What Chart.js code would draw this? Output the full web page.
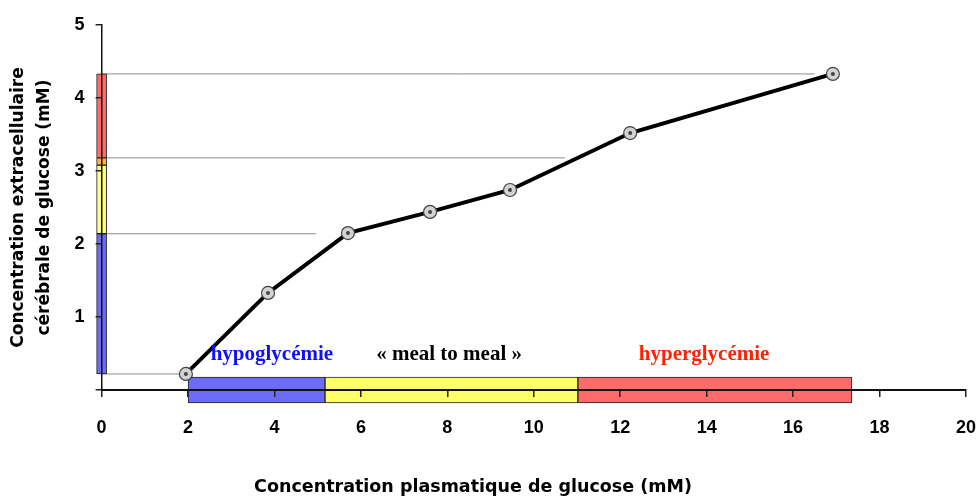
<!DOCTYPE html>
<html lang="fr">
<head>
<meta charset="utf-8">
<title>Glucose cérébral vs plasmatique</title>
<script src="https://cdn.jsdelivr.net/npm/chart.js@4.4.1/dist/chart.umd.min.js"></script>
<style>
  html, body { margin: 0; padding: 0; background: #fff; }
  #wrap { width: 979px; height: 499px; }
</style>
</head>
<body>
<div id="wrap"><canvas id="chart"></canvas></div>
<script>
// measured curve
const plasma = [1.95, 3.85, 5.7, 7.6, 9.45, 12.23, 16.92];
const cerebral = [0.22, 1.33, 2.15, 2.44, 2.74, 3.52, 4.33];

// axis ticks
const xTickValues = [0, 2, 4, 6, 8, 10, 12, 14, 16, 18, 20];
const yTickValues = [0, 1, 2, 3, 4, 5];

// plasma zones along the x axis
const zoneNames = ["hypoglycémie", "« meal to meal »", "hyperglycémie"];
const zoneEdges = [2, 5.17, 11.02, 17.36];

// matching brain zones along the y axis (blue, yellow, orange, red)
const brainEdges = [0.22, 2.14, 3.08, 3.18, 4.33];

// grey guide lines: level and where they stop
const refLevels = [0.22, 2.14, 3.18, 4.33];
const refEnds = [1.95, 4.96, 10.72, 16.5];

const zoneFill = ["#6b6bf7", "#ffff66", "#ff6a6a"];
const zoneText = ["#1010ff", "#000000", "#ff2200"];
const brainFill = ["#6b6bf7", "#ffff88", "#ffb347", "#ff6a6a"];

const decor = {
  id: "decor",
  afterDatasetsDraw(chart) {
    const ctx = chart.ctx;
    ctx.save();
    ctx.fillStyle = "#444";
    chart.getDatasetMeta(0).data.forEach((p) => {
      ctx.beginPath();
      ctx.arc(p.x, p.y, 2, 0, Math.PI * 2);
      ctx.fill();
    });
    ctx.restore();
  },
  afterDraw(chart) {
    const { ctx, scales } = chart;
    const labelX = [3.94, 8.04, 13.94];
    ctx.save();
    ctx.textAlign = "center";
    ctx.textBaseline = "middle";
    ctx.font = 'bold 21px "Liberation Serif"';
    zoneNames.forEach((name, i) => {
      ctx.fillStyle = zoneText[i];
      ctx.fillText(name, scales.x.getPixelForValue(labelX[i]), scales.y.getPixelForValue(0.49));
    });
    ctx.fillStyle = "#000";
    ctx.font = 'bold 17.5px "DejaVu Sans"';
    ctx.fillText("Concentration plasmatique de glucose (mM)", 473, 487);
    ctx.restore();
  },
};

const datasets = [
  {
    type: "line",
    data: plasma.map((x, i) => ({ x: x, y: cerebral[i] })),
    borderColor: "#000",
    borderWidth: 4,
    tension: 0,
    pointRadius: 6.5,
    pointBackgroundColor: "#d2d2d2",
    pointBorderColor: "#444",
    pointBorderWidth: 1.2,
    order: 0,
  },
  {
    type: "bar",
    indexAxis: "y",
    data: zoneEdges.slice(0, -1).map((a, i) => ({ x: [a, zoneEdges[i + 1]], y: 0 })),
    backgroundColor: zoneFill,
    borderColor: "#222",
    borderWidth: 1,
    borderSkipped: false,
    barThickness: 26,
    grouped: false,
    clip: false,
    order: 1,
  },
  {
    type: "bar",
    indexAxis: "x",
    data: brainEdges.slice(0, -1).map((a, i) => ({ x: 0, y: [a, brainEdges[i + 1]] })),
    backgroundColor: brainFill,
    borderColor: "#222",
    borderWidth: 1,
    borderSkipped: false,
    barThickness: 10,
    grouped: false,
    clip: false,
    order: 1,
  },
];

refLevels.forEach((lvl, i) => {
  datasets.push({
    type: "line",
    data: [{ x: 0, y: lvl }, { x: refEnds[i], y: lvl }],
    borderColor: "#8c8c8c",
    borderWidth: 1,
    pointRadius: 0,
    order: 3,
  });
});

new Chart(document.getElementById("chart"), {
  type: "line",
  data: { datasets: datasets },
  options: {
    responsive: true,
    maintainAspectRatio: false,
    devicePixelRatio: 1,
    animation: false,
    layout: { padding: { left: 0, right: 13, top: 25, bottom: 0 } },
    plugins: { legend: { display: false }, tooltip: { enabled: false } },
    scales: {
      x: {
        type: "linear",
        min: 0,
        max: 20,
        offset: false,
        afterBuildTicks: (s) => { s.ticks = xTickValues.map((v) => ({ value: v })); },
        afterFit: (s) => {
          s.height = 109;
          s.paddingLeft = 8;
          s.paddingRight = 10;
        },
        grid: { offset: false, drawOnChartArea: false, tickLength: 7, color: "#222", lineWidth: 1.5, z: 1 },
        border: { color: "#111", width: 2, z: 1 },
        ticks: { color: "#000", padding: 20, maxRotation: 0, font: { family: "Liberation Sans", size: 18, weight: "bold" } },
      },
      y: {
        type: "linear",
        min: 0,
        max: 5,
        offset: false,
        afterBuildTicks: (s) => { s.ticks = yTickValues.map((v) => ({ value: v })); },
        afterFit: (s) => { s.width = 101.6; },
        grid: { offset: false, drawOnChartArea: false, tickLength: 6, color: "#222", lineWidth: 1.5, z: 1 },
        border: { color: "#111", width: 1.5, z: 1 },
        ticks: {
          color: "#000",
          padding: 11,
          callback: (v) => (v === 0 ? "" : v),
          font: { family: "Liberation Sans", size: 18, weight: "bold" },
        },
        title: {
          display: true,
          text: ["Concentration extracellulaire", "cérébrale de glucose (mM)"],
          color: "#000",
          padding: { top: 6, bottom: 0 },
          font: { family: "DejaVu Sans", size: 17, weight: "bold", lineHeight: 1.5 },
        },
      },
    },
  },
  plugins: [decor],
});
</script>
</body>
</html>
